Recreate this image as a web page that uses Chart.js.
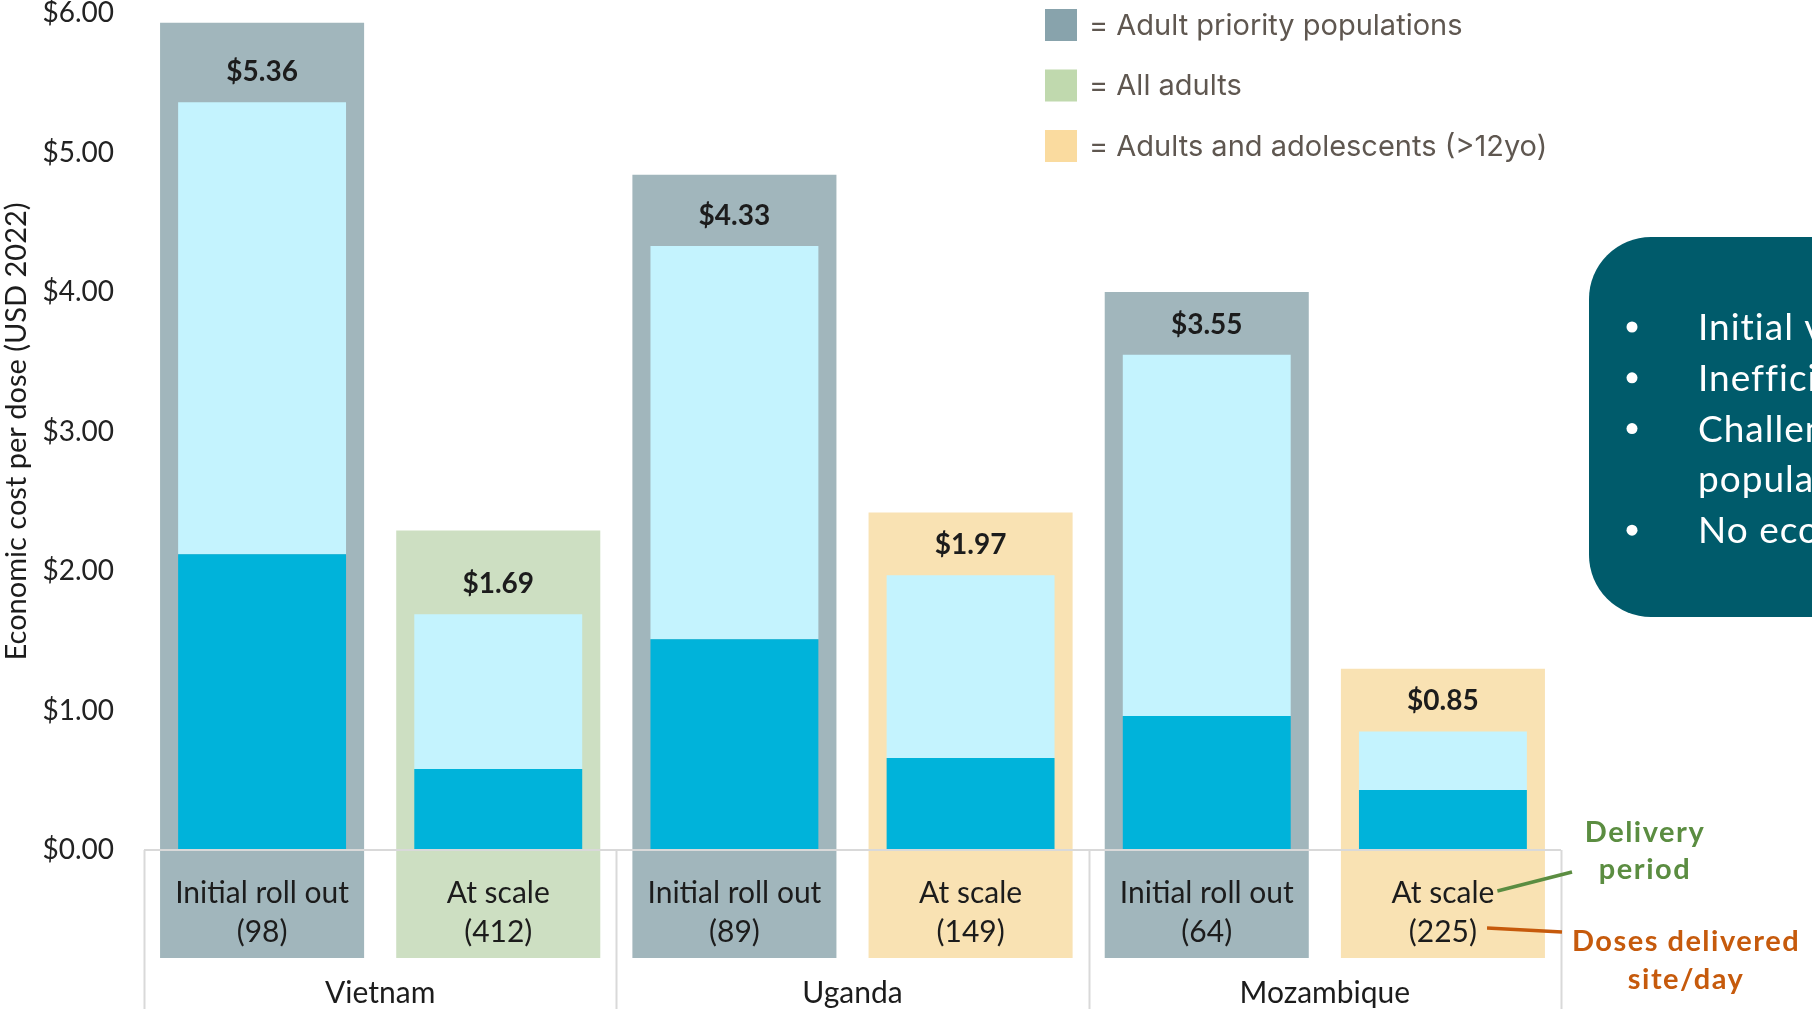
<!DOCTYPE html>
<html>
<head>
<meta charset="utf-8">
<script src="https://cdn.jsdelivr.net/npm/chart.js@4.4.1/dist/chart.umd.min.js"></script>
<style>
  html, body { margin: 0; padding: 0; background: #ffffff; overflow: hidden; }
  canvas { display: block; }
</style>
</head>
<body>
<canvas id="chart" width="1812" height="1009"></canvas>
<script>
// ---- data ----
const phases = ['Initial roll out', 'At scale', 'Initial roll out', 'At scale', 'Initial roll out', 'At scale'];
const dosesPerSiteDay = [98, 412, 89, 149, 64, 225];
const countries = ['Vietnam', 'Uganda', 'Mozambique'];
const totalCost = [5.36, 1.69, 4.33, 1.97, 3.55, 0.85];      // economic cost per dose (USD 2022)
const lowerSegment = [2.12, 0.58, 1.51, 0.66, 0.96, 0.43];   // darker lower part of each bar
const frameTop = [5.93, 2.29, 4.84, 2.42, 4.00, 1.30];       // top of the coloured population frame
const populationGroup = [0, 1, 0, 2, 0, 2];                  // index into the legend below
const yTicks = [0, 1, 2, 3, 4, 5, 6];
const legendLabels = ['= Adult priority populations', '= All adults', '= Adults and adolescents (>12yo)'];
const notes = [
  { bullet: true,  text: 'Initial vaccine hesitancy' },
  { bullet: true,  text: 'Inefficient service delivery' },
  { bullet: true,  text: 'Challenges reaching priority' },
  { bullet: false, text: 'populations' },
  { bullet: true,  text: 'No economies of scale' }
];

// ---- styling ----
const FRAME_FLOOR = -0.775;   // frames run down behind the category labels
const frameColors = ['#a1b6bc', '#cddfc2', '#f9e2b3'];
const swatchColors = ['#88a3ac', '#c0d9ae', '#fadb9f'];
const LIGHT = '#c4f3fe';
const DARK = '#00b3da';
const AXIS = '#d9d9d9';
const TEXT = '#1c1c1c';

const fmt = v => '$' + v.toFixed(2);

const decorations = {
  id: 'decorations',
  afterDatasetsDraw(chart) {
    const { ctx, chartArea, scales: { x, y } } = chart;
    const zero = y.getPixelForValue(0);
    ctx.save();
    // horizontal axis line at zero
    ctx.strokeStyle = AXIS;
    ctx.lineWidth = 2;
    ctx.beginPath();
    ctx.moveTo(chartArea.left, zero);
    ctx.lineTo(chartArea.right, zero);
    ctx.stroke();
    // group separators
    const seps = [chartArea.left];
    for (let g = 1; g < countries.length; g++) {
      seps.push((x.getPixelForValue(g * 2 - 1) + x.getPixelForValue(g * 2)) / 2);
    }
    seps.push(chartArea.right);
    seps.forEach(sx => {
      ctx.beginPath();
      ctx.moveTo(Math.round(sx) + 0.5, zero);
      ctx.lineTo(Math.round(sx) + 0.5, chart.height);
      ctx.stroke();
    });

    // value labels
    ctx.fillStyle = TEXT;
    ctx.textAlign = 'center';
    ctx.textBaseline = 'middle';
    ctx.font = 'bold 28px Lato';
    totalCost.forEach((v, i) => {
      ctx.fillText(fmt(v), x.getPixelForValue(i), y.getPixelForValue(v) - 30);
    });

    // category labels inside the frames
    ctx.font = '30px Lato';
    phases.forEach((p, i) => {
      const cx = x.getPixelForValue(i);
      ctx.fillText(p, cx, zero + 43);
      ctx.fillText('(' + dosesPerSiteDay[i] + ')', cx, zero + 82);
    });

    // country labels
    ctx.font = '30px Lato';
    countries.forEach((c, g) => {
      const cx = (x.getPixelForValue(g * 2) + x.getPixelForValue(g * 2 + 1)) / 2;
      ctx.fillText(c, cx, zero + 143);
    });

    // y axis title, centred on the $0–$6 range
    ctx.save();
    ctx.translate(17, (y.getPixelForValue(0) + y.getPixelForValue(6)) / 2);
    ctx.rotate(-Math.PI / 2);
    ctx.font = '29px Lato';
    ctx.fillText('Economic cost per dose (USD 2022)', 0, 0);
    ctx.restore();

    // legend for the population frames
    ctx.textAlign = 'left';
    ctx.font = '29px Inter';
    legendLabels.forEach((t, k) => {
      const cy = 25 + k * 60.5;
      ctx.fillStyle = swatchColors[k];
      ctx.fillRect(1045, cy - 16, 32, 32);
      ctx.fillStyle = '#5f5750';
      ctx.fillText(t, 1089, cy + 1);
    });

    // call-out box on the right
    ctx.fillStyle = '#005b6b';
    ctx.beginPath();
    ctx.roundRect(1589, 237, 400, 380, 62);
    ctx.fill();
    ctx.fillStyle = '#ffffff';
    ctx.font = '37px Lato';
    ctx.letterSpacing = '1px';
    notes.forEach((n, k) => {
      const cy = 327 + k * 50.8;
      if (n.bullet) {
        ctx.beginPath();
        ctx.arc(1632, cy, 5.5, 0, Math.PI * 2);
        ctx.fill();
      }
      ctx.fillText(n.text, 1698, cy + 1);
    });

    // annotations pointing at the last category label
    const lastX = x.getPixelForValue(phases.length - 1);
    ctx.letterSpacing = '1.5px';
    ctx.font = 'bold 29px Lato';
    ctx.textAlign = 'center';
    ctx.fillStyle = '#5b8d41';
    ctx.fillText('Delivery', 1645, 833);
    ctx.fillText('period', 1645, 870);
    ctx.fillStyle = '#c65a0c';
    ctx.fillText('Doses delivered', 1686, 942);
    ctx.fillText('site/day', 1686, 980);
    ctx.letterSpacing = '0px';

    ctx.font = '30px Lato';
    const w1 = ctx.measureText(phases[phases.length - 1]).width;
    const w2 = ctx.measureText('(' + dosesPerSiteDay[phases.length - 1] + ')').width;
    ctx.lineWidth = 3.5;
    ctx.strokeStyle = '#5b8d41';
    ctx.beginPath();
    ctx.moveTo(lastX + w1 / 2 + 3, zero + 41);
    ctx.lineTo(1572, zero + 22);
    ctx.stroke();
    ctx.strokeStyle = '#c65a0c';
    ctx.beginPath();
    ctx.moveTo(lastX + w2 / 2 + 10, zero + 78);
    ctx.lineTo(1562, zero + 82);
    ctx.stroke();
    ctx.restore();
  }
};

new Chart(document.getElementById('chart'), {
  type: 'bar',
  data: {
    labels: phases,
    datasets: [
      {
        label: 'Lower component',
        data: lowerSegment.map(v => [0, v]),
        backgroundColor: DARK,
        barPercentage: 0.711,
        categoryPercentage: 1,
        grouped: false,
        order: 1
      },
      {
        label: 'Upper component',
        data: totalCost.map((v, i) => [lowerSegment[i], v]),
        backgroundColor: LIGHT,
        barPercentage: 0.711,
        categoryPercentage: 1,
        grouped: false,
        order: 2
      },
      {
        label: 'Population frame',
        data: frameTop.map(v => [FRAME_FLOOR, v]),
        backgroundColor: populationGroup.map(g => frameColors[g]),
        barPercentage: 0.864,
        categoryPercentage: 1,
        grouped: false,
        order: 3
      }
    ]
  },
  options: {
    responsive: false,
    animation: false,
    devicePixelRatio: 1,
    layout: { padding: { left: 0, right: 251, top: 13, bottom: 0 } },
    plugins: { legend: { display: false }, tooltip: { enabled: false } },
    scales: {
      x: { display: false },
      y: {
        min: -1.14,
        max: 6,
        afterFit: s => { s.width = 144; s.paddingTop = 0; s.paddingBottom = 0; },
        afterBuildTicks: s => { s.ticks = yTicks.map(v => ({ value: v })); },
        grid: { display: false },
        border: { display: false },
        ticks: {
          padding: 22,
          color: '#222222',
          font: { family: 'Lato', size: 28 },
          callback: v => fmt(v)
        }
      }
    }
  },
  plugins: [decorations]
});
</script>
</body>
</html>
